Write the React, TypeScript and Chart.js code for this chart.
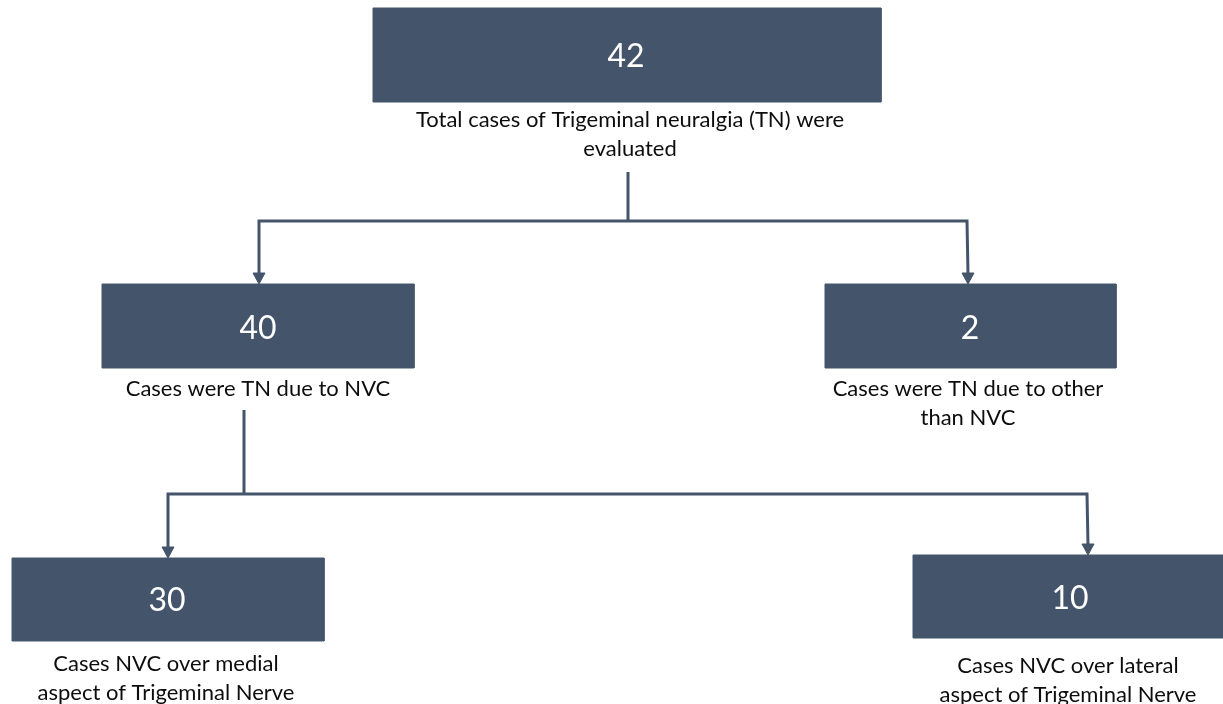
import React, { useEffect, useRef } from "react";
import { Chart, registerables } from "chart.js";

Chart.register(...registerables);

// ---- data ----
const nodeValues = [42, 40, 2, 30, 10];
const nodeLabels: string[][] = [
  ["Total cases of Trigeminal neuralgia (TN) were", "evaluated"],
  ["Cases were TN due to NVC"],
  ["Cases were TN due to other", "than NVC"],
  ["Cases NVC over medial", "aspect of Trigeminal Nerve"],
  ["Cases NVC over lateral", "aspect of Trigeminal Nerve"],
];
// parent -> children links (node indices)
const links: [number, number[]][] = [
  [0, [1, 2]],
  [1, [3, 4]],
];

// ---- layout (page coordinate system, 1223 x 704) ----
const boxRects = [
  { x0: 373, x1: 881, y0: 8, y1: 102 },
  { x0: 102, x1: 414, y0: 284, y1: 368 },
  { x0: 825, x1: 1116, y0: 284, y1: 368 },
  { x0: 12, x1: 324, y0: 558, y1: 641 },
  { x0: 913, x1: 1223, y0: 555, y1: 638 },
];
const valuePos = [
  { x: 626, y: 67 },
  { x: 258, y: 339 },
  { x: 970, y: 339 },
  { x: 167, y: 611 },
  { x: 1070, y: 609 },
];
const labelPos = [
  { x: 630, ys: [127, 156] },
  { x: 258, ys: [396] },
  { x: 968, ys: [396, 425] },
  { x: 166, ys: [671, 700] },
  { x: 1068, ys: [673, 702] },
];
// connector geometry per link: stem [x, yTop], bus y, drop x per child
const linkGeom = [
  { stemX: 628, stemTop: 172, busY: 221, dropX: [259, 968] },
  { stemX: 244, stemTop: 410, busY: 494, dropX: [168, 1088] },
];

const BOX = "#44546A";
const LINE = "#44546A";
const FONT = "Lato, 'Open Sans', sans-serif";
const ARROW_H = 11;
const ARROW_W = 6;

const textPlugin = {
  id: "flowText",
  afterDatasetsDraw(chart: any) {
    const { ctx, scales } = chart;
    const px = (v: number) => scales.x.getPixelForValue(v);
    const py = (v: number) => scales.y.getPixelForValue(v);
    ctx.save();
    ctx.textAlign = "center";
    ctx.textBaseline = "alphabetic";
    nodeValues.forEach((v, i) => {
      ctx.fillStyle = "#ffffff";
      ctx.font = `32px ${FONT}`;
      ctx.fillText(String(v), px(valuePos[i].x), py(valuePos[i].y));
      ctx.fillStyle = "#0d0d0d";
      ctx.font = `22px ${FONT}`;
      nodeLabels[i].forEach((line, j) => {
        ctx.fillText(line, px(labelPos[i].x), py(labelPos[i].ys[j]));
      });
    });
    ctx.restore();
  },
};

export default function App() {
  const ref = useRef<HTMLCanvasElement | null>(null);

  useEffect(() => {
    if (!ref.current) return;
    const datasets: any[] = [];

    // boxes
    boxRects.forEach((r) => {
      datasets.push({
        data: [
          { x: r.x0, y: r.y0 },
          { x: r.x1, y: r.y0 },
          { x: r.x1, y: r.y1 },
          { x: r.x0, y: r.y1 },
          { x: r.x0, y: r.y0 },
        ],
        showLine: true,
        fill: "shape",
        backgroundColor: BOX,
        borderColor: BOX,
        borderWidth: 1,
        pointRadius: 0,
        tension: 0,
      });
    });

    // connectors
    links.forEach(([, children], li) => {
      const g = linkGeom[li];
      datasets.push({
        data: [
          { x: g.stemX, y: g.stemTop },
          { x: g.stemX, y: g.busY },
        ],
        showLine: true,
        fill: false,
        borderColor: LINE,
        borderWidth: 3,
        pointRadius: 0,
      });
      const tips = children.map((c, k) => ({ x: g.dropX[k], y: boxRects[c].y0 }));
      datasets.push({
        data: [
          { x: tips[0].x, y: tips[0].y - ARROW_H + 1 },
          { x: tips[0].x, y: g.busY },
          { x: tips[1].x - 1, y: g.busY },
          { x: tips[1].x, y: tips[1].y - ARROW_H + 1 },
        ],
        showLine: true,
        fill: false,
        borderColor: LINE,
        borderWidth: 3,
        borderJoinStyle: "miter",
        pointRadius: 0,
      });
      tips.forEach((t) => {
        datasets.push({
          data: [
            { x: t.x - ARROW_W, y: t.y - ARROW_H },
            { x: t.x + ARROW_W, y: t.y - ARROW_H },
            { x: t.x, y: t.y },
            { x: t.x - ARROW_W, y: t.y - ARROW_H },
          ],
          showLine: true,
          fill: "shape",
          backgroundColor: LINE,
          borderColor: LINE,
          borderWidth: 1,
          pointRadius: 0,
        });
      });
    });

    const chart = new Chart(ref.current, {
      type: "scatter",
      data: { datasets },
      options: {
        animation: false,
        responsive: false,
        devicePixelRatio: 1,
        layout: { padding: 0 },
        plugins: { legend: { display: false }, tooltip: { enabled: false } },
        events: [],
        scales: {
          x: { type: "linear", min: 0, max: 1223, display: false },
          y: { type: "linear", min: 0, max: 704, reverse: true, display: false },
        },
      },
      plugins: [textPlugin],
    } as any);
    return () => chart.destroy();
  }, []);

  return (
    <div style={{ position: "fixed", left: 0, top: 0, width: 1223, height: 704, background: "#ffffff" }}>
      <canvas ref={ref} width={1223} height={704} style={{ width: 1223, height: 704, display: "block" }} />
    </div>
  );
}
